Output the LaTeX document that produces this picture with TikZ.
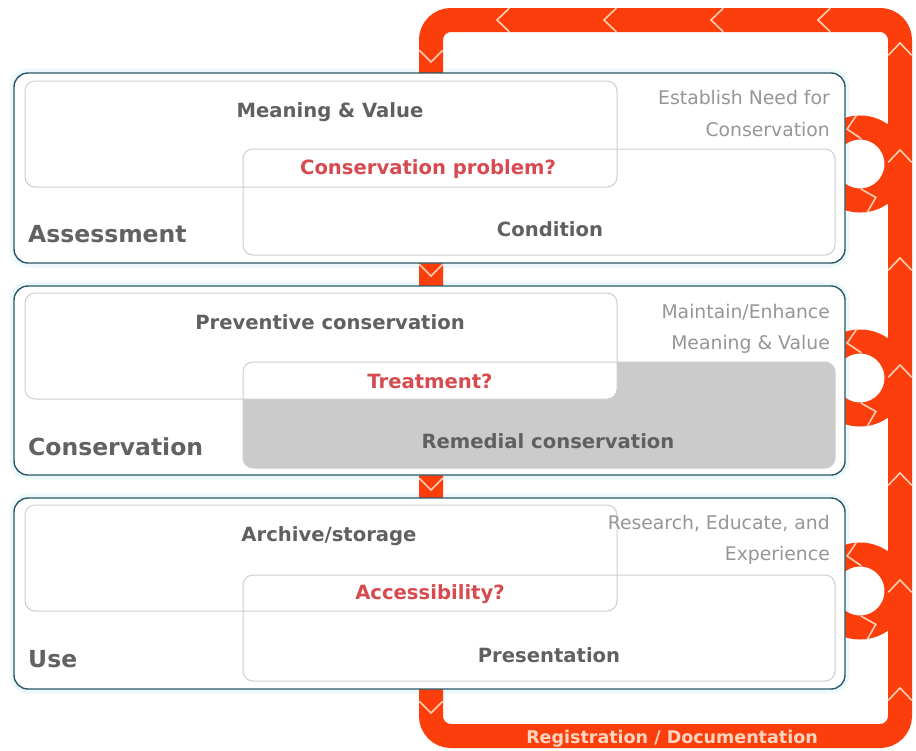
\documentclass[tikz,border=0pt]{standalone}
\usepackage{fontspec}
\setmainfont{DejaVu Sans}
\definecolor{orng}{RGB}{252,62,12}
\definecolor{chevc}{RGB}{255,205,178}
\definecolor{tealb}{RGB}{42,88,102}
\definecolor{glowc}{RGB}{236,248,251}
\definecolor{innerc}{RGB}{206,206,206}
\definecolor{grayfill}{RGB}{203,203,203}
\definecolor{lblc}{RGB}{96,96,96}
\definecolor{secc}{RGB}{98,98,98}
\definecolor{sidec}{RGB}{150,150,150}
\definecolor{redc}{RGB}{214,74,80}
\definecolor{regc}{RGB}{255,214,192}
\begin{document}
\begin{tikzpicture}[x=1pt,y=-1pt,
  band/.style={draw=orng, line width=24pt},
  chev/.style={draw=chevc, line width=1.6pt, line cap=round, line join=miter},
  glow/.style={draw=glowc, line width=9pt, rounded corners=14pt},
  outerbox/.style={draw=tealb, line width=1.4pt, fill=white, rounded corners=14pt},
  innerbox/.style={draw=innerc, line width=1pt, rounded corners=10pt},
  lbl/.style={font=\bfseries\fontsize{19.6}{24}\selectfont, text=lblc, anchor=base, inner sep=0pt},
  qlbl/.style={font=\bfseries\fontsize{19.6}{24}\selectfont, text=redc, anchor=base, inner sep=0pt},
  sec/.style={font=\bfseries\fontsize{23.5}{28}\selectfont, text=secc, anchor=base west, inner sep=0pt},
  side/.style={font=\fontsize{18.8}{23}\selectfont, text=sidec, anchor=base east, inner sep=0pt},
  reg/.style={font=\bfseries\fontsize{17.5}{21}\selectfont, text=regc, anchor=base, inner sep=0pt}
]
\useasboundingbox (0,0) rectangle (916,750);

% glow around the stage boxes
\draw[glow] (14,73) rectangle (845,263);
\draw[glow] (14,286) rectangle (845,475);
\draw[glow] (14,498) rectangle (845,689);

% orange documentation loop
\draw[band, rounded corners=20pt] (431,20) rectangle (900,736);
\foreach \cy in {164,378,591}
  \draw[band] (860,\cy) circle[radius=36.5];

% direction chevrons
\foreach \x in {497,604,711,818}
  \draw[chev] (\x+12,8.5) -- (\x,20) -- (\x+12,31.5);
\foreach \y in {43,150,258,365,473,580,688}
  \draw[chev] (888.5,\y+12) -- (900,\y) -- (911.5,\y+12);
\foreach \y in {62,276,490,713}
  \draw[chev] (419.5,\y-11.5) -- (431,\y) -- (442.5,\y-11.5);
\foreach \cy in {164,378,591}{
  \begin{scope}[shift={(860,\cy)}]
    \draw[chev] (-3.4,-48.9) -- (-12.9,-34.9) -- (1.2,-25.3);
    \draw[chev] (1,25.1) -- (15.8,33.4) -- (7.4,48.1);
  \end{scope}
}

% stage boxes
\draw[outerbox] (14,73) rectangle (845,263);
\draw[outerbox] (14,286) rectangle (845,475);
\draw[outerbox] (14,498) rectangle (845,689);

% Assessment
\draw[innerbox] (25,81) rectangle (617,187);
\draw[innerbox] (243,149) rectangle (835,255);
% Conservation
\fill[grayfill, rounded corners=10pt] (243,362) rectangle (835,468);
\fill[white, rounded corners=10pt] (25,293) rectangle (617,399);
\draw[innerbox] (243,362) rectangle (835,468);
\draw[innerbox] (25,293) rectangle (617,399);
% Use
\draw[innerbox] (25,505) rectangle (617,611);
\draw[innerbox] (243,575) rectangle (835,681);

% texts
\node[lbl] (mv) at (330,117) {Meaning \& Value};
\node[qlbl] (cp) at (428,174) {Conservation problem?};
\node[lbl] (cond) at (550,236) {Condition};
\node[sec] (assess) at (28,242.5) {Assessment};
\node[side] (en1) at (830,104) {Establish Need for};
\node[side] (en2) at (830,136) {Conservation};

\node[lbl] (prev) at (330,329) {Preventive conservation};
\node[qlbl] (treat) at (430,388) {Treatment?};
\node[lbl] (rem) at (548,448) {Remedial conservation};
\node[sec] (cons) at (28,455) {Conservation};
\node[side] (me1) at (830,318) {Maintain/Enhance};
\node[side] (me2) at (830,349) {Meaning \& Value};

\node[lbl] (arch) at (329,541) {Archive/storage};
\node[qlbl] (acc) at (430,599) {Accessibility?};
\node[lbl] (pres) at (549,662) {Presentation};
\node[sec] (use) at (28,667) {Use};
\node[side] (re1) at (830,529) {Research, Educate, and};
\node[side] (re2) at (830,560) {Experience};

\node[reg] (regdoc) at (672,743) {Registration / Documentation};
\end{tikzpicture}
\end{document}
